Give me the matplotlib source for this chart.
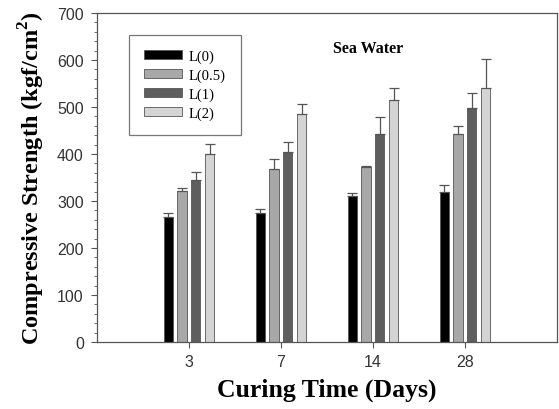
import matplotlib
matplotlib.use("Agg")
import matplotlib.pyplot as plt
import numpy as np
from matplotlib.ticker import MultipleLocator

plt.rcParams["mathtext.fontset"] = "custom"
plt.rcParams["mathtext.rm"] = "Liberation Serif"
plt.rcParams["mathtext.bf"] = "Liberation Serif:bold"

categories = ["3", "7", "14", "28"]
series_names = ["L(0)", "L(0.5)", "L(1)", "L(2)"]
L0 = [266, 274, 311, 319]
L05 = [322, 369, 372, 442]
L1 = [344, 404, 442, 498]
L2 = [401, 486, 515, 541]
L0_err = [8, 9, 5, 14]
L05_err = [5, 20, 2, 17]
L1_err = [18, 21, 37, 32]
L2_err = [20, 21, 25, 62]

values = [L0, L05, L1, L2]
errors = [L0_err, L05_err, L1_err, L2_err]
colors = ["#000000", "#a8a8a8", "#5e5e5e", "#d4d4d4"]

fig = plt.figure(figsize=(5.59, 4.10), dpi=100)
ax = fig.add_axes([0.1735, 0.1634, 0.8229, 0.8025])

x = np.arange(1, len(categories) + 1)
width = 0.1
offsets = [-0.225, -0.075, 0.075, 0.225]
for vals, errs, col, name, off in zip(values, errors, colors, series_names, offsets):
    ax.bar(x + off, vals, width, color=col, edgecolor="#555555", linewidth=0.6, label=name, zorder=2)
    ax.errorbar(x + off, vals, yerr=[np.zeros(len(errs)), errs], fmt="none",
                ecolor="#555555", elinewidth=0.9, capsize=3.5, capthick=0.9, zorder=3)

ax.set_xlim(0, 5)
ax.set_ylim(0, 700)
ax.set_xticks(x)
ax.set_xticklabels(categories)
ax.yaxis.set_major_locator(MultipleLocator(100))
ax.yaxis.set_minor_locator(MultipleLocator(20))
ax.tick_params(axis="both", which="major", direction="out", length=4.5, width=0.8, color="#555555",
               labelsize=11.5, labelcolor="#333333", pad=5)
ax.tick_params(axis="x", which="major", pad=4)
ax.tick_params(axis="y", which="minor", direction="out", length=2.5, width=0.6, color="#555555")
for lab in ax.get_xticklabels() + ax.get_yticklabels():
    lab.set_fontfamily("Liberation Sans")
for sp in ax.spines.values():
    sp.set_color("#555555")
    sp.set_linewidth(0.9)

ax.set_ylabel("Compressive Strength (kgf/cm$^{\\mathbf{2}}$)", fontsize=17.5, fontweight="bold",
              fontfamily="Liberation Serif", labelpad=7)
ax.set_xlabel("Curing Time (Days)", fontsize=18.5, fontweight="bold",
              fontfamily="Liberation Serif", labelpad=6)
ax.text(0.59, 0.894, "Sea Water", transform=ax.transAxes, ha="center", va="center",
        fontsize=11.5, fontweight="bold", fontfamily="Liberation Serif")

leg = ax.legend(loc="upper left", bbox_to_anchor=(0.07, 0.933), borderaxespad=0,
                fancybox=False, frameon=True, edgecolor="#555555",
                prop={"family": "Liberation Serif", "size": 10.5},
                handlelength=2.6, handleheight=0.55, labelspacing=0.38,
                handletextpad=0.5, borderpad=1.0)
leg.get_frame().set_linewidth(0.9)

fig.savefig("out.png", dpi=100)
